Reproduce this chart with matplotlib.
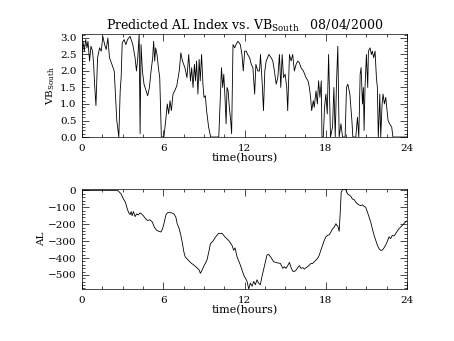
import numpy as np
import matplotlib
matplotlib.use("Agg")
import matplotlib.pyplot as plt
from matplotlib.ticker import MultipleLocator

# VB_south (top panel), hours vs value
vb_hours = [0.0, 0.03, 0.07, 0.17, 0.27, 0.37, 0.44, 0.56, 0.66, 0.78, 0.86, 0.93, 1.03,
            1.15, 1.30, 1.42, 1.54, 1.67, 1.79, 1.91, 2.03, 2.21, 2.38, 2.48, 2.57,
            2.72, 2.82, 2.89, 2.97, 3.11, 3.24, 3.36, 3.55, 3.75, 3.92, 4.02, 4.12,
            4.22, 4.29, 4.36, 4.46, 4.58, 4.73, 4.85, 4.98, 5.10, 5.22, 5.29, 5.37,
            5.44, 5.54, 5.64, 5.74, 5.86, 6.05, 6.18, 6.30, 6.40, 6.50, 6.60, 6.72,
            6.85, 7.00, 7.18, 7.30, 7.42, 7.60, 7.75, 7.88, 8.01, 8.10, 8.20, 8.30,
            8.38, 8.46, 8.56, 8.65, 8.73, 8.83, 8.93, 9.01, 9.11, 9.20, 9.35, 9.50,
            10.10, 10.30, 10.39, 10.47, 10.56, 10.64, 10.71, 10.79, 10.88, 10.98, 11.05,
            11.15, 11.28, 11.37, 11.52, 11.69, 11.81, 11.91, 12.01, 12.13, 12.23, 12.38,
            12.50, 12.62, 12.75, 12.84, 12.98, 13.11, 13.18, 13.31, 13.40, 13.50, 13.60,
            13.80, 13.97, 14.09, 14.21, 14.34, 14.46, 14.58, 14.68, 14.78, 14.88, 15.00,
            15.12, 15.19, 15.32, 15.44, 15.56, 15.68, 15.81, 15.93, 16.05, 16.17, 16.35,
            16.54, 16.69, 16.79, 16.88, 16.96, 17.08, 17.15, 17.28, 17.38, 17.47, 17.57,
            17.67, 17.72, 17.82, 17.91, 18.01, 18.11, 18.21, 18.35, 18.50, 18.60, 18.70,
            18.79, 18.89, 18.99, 19.12, 19.24, 19.43, 19.53, 19.63, 19.78, 19.93, 20.00,
            20.22, 20.34, 20.44, 20.54, 20.61, 20.71, 20.78, 20.83, 20.90, 21.00, 21.10,
            21.15, 21.27, 21.37, 21.44, 21.54, 21.64, 21.74, 21.81, 21.88, 21.93, 21.99,
            22.06, 22.16, 22.23, 22.33, 22.43, 22.50, 22.60, 22.72, 22.87, 22.96, 24.0]
vb_values = [0.8, 2.6, 2.9, 2.6, 2.95, 2.7, 2.9, 2.3, 2.75, 2.6, 2.2, 1.6, 0.95,
             2.4, 2.7, 2.6, 3.05, 2.8, 2.65, 3.0, 2.4, 2.2, 2.0, 1.2, 0.5,
             0.0, 1.4, 1.8, 2.85, 2.95, 2.8, 2.95, 3.05, 2.8, 2.4, 2.0, 2.4,
             3.12, 0.1, 2.8, 2.0, 1.6, 1.4, 1.25, 1.5, 2.0, 2.4, 2.9, 2.3,
             2.7, 2.5, 2.1, 1.8, 0.0, 0.0, 0.5, 1.0, 0.7, 1.1, 0.8, 1.3,
             1.4, 1.55, 2.0, 2.55, 2.3, 2.1, 1.8, 2.5, 1.7, 2.1, 1.5, 2.2,
             1.7, 2.3, 1.3, 2.35, 1.7, 2.5, 1.6, 1.2, 1.25, 0.8, 0.3, 0.0,
             0.0, 2.1, 1.5, 1.9, 1.2, 0.4, 1.5, 1.4, 0.9, 0.5, 0.1,
             2.8, 2.7, 2.8, 2.9, 2.8, 2.5, 2.0, 2.6, 2.6, 2.5, 2.4,
             2.2, 2.1, 1.3, 2.2, 2.0, 2.0, 2.5, 1.6, 0.8, 2.0, 2.3,
             2.5, 2.4, 2.3, 2.0, 1.6, 1.8, 2.5, 1.5, 2.5, 1.8, 1.9,
             1.5, 0.8, 2.5, 2.3, 2.5, 2.0, 2.2, 2.3, 2.25, 2.1, 2.0,
             1.8, 1.7, 1.5, 1.2, 0.8, 1.1, 0.9, 1.4, 1.0, 1.7, 1.2,
             1.7, 0.0, 0.0, 0.9, 1.3, 0.7, 2.5, 0.0, 0.3, 1.5, 0.0,
             1.6, 2.75, 0.0, 0.4, 0.0, 0.0, 1.5, 1.6, 1.3, 0.5, 0.0,
             0.0, 0.6, 0.0, 1.9, 2.1, 1.0, 1.5, 0.2, 1.5, 2.5, 1.5,
             2.6, 2.7, 2.5, 2.6, 2.4, 2.6, 1.8, 1.5, 0.0, 0.5, 1.3,
             0.0, 1.0, 1.3, 1.0, 1.2, 0.9, 0.5, 0.4, 0.3, 0.0, 0.0]

# predicted AL index (bottom panel)
al_hours = [0.0, 2.60, 2.70, 2.89, 3.06, 3.21, 3.31, 3.43, 3.55, 3.63, 3.70, 3.80,
            3.92, 4.04, 4.16, 4.29, 4.41, 4.53, 4.70, 4.85, 5.02, 5.19, 5.34, 5.51,
            5.68, 5.83, 5.95, 6.08, 6.20, 6.30, 6.44, 6.62, 6.79, 6.93, 7.03, 7.18,
            7.30, 7.42, 7.52, 7.62, 7.77, 7.91, 8.09, 8.26, 8.45, 8.65, 8.74, 8.85,
            8.98, 9.23, 9.40, 9.48, 9.67, 9.85, 10.09, 10.34, 10.58, 10.83, 10.95,
            11.08, 11.20, 11.30, 11.45, 11.69, 11.94, 12.19, 12.31, 12.43, 12.56,
            12.68, 12.80, 12.92, 13.04, 13.17, 13.29, 13.46, 13.66, 13.78, 13.96,
            14.15, 14.40, 14.65, 14.83, 14.95, 15.07, 15.19, 15.32, 15.44, 15.56,
            15.68, 15.81, 15.93, 16.05, 16.17, 16.30, 16.42, 16.54, 16.66, 16.79,
            16.91, 17.03, 17.15, 17.28, 17.40, 17.52, 17.64, 17.77, 17.89, 18.01,
            18.13, 18.26, 18.38, 18.50, 18.63, 18.75, 18.82, 18.89, 18.99, 19.07,
            19.14, 19.24, 19.36, 19.48, 19.61, 19.73, 19.85, 19.97, 20.10, 20.22,
            20.34, 20.46, 20.59, 20.71, 20.83, 20.95, 21.08, 21.20, 21.32, 21.44,
            21.57, 21.69, 21.81, 21.93, 22.06, 22.18, 22.30, 22.42, 22.55, 22.67,
            22.79, 22.91, 23.04, 23.16, 23.28, 23.40, 23.53, 23.65, 23.77, 23.89, 24.0]
al_values = [0, 0, -5, -21, -51, -70, -100, -129, -143, -125, -150, -125,
             -155, -139, -145, -133, -140, -150, -168, -178, -174, -187, -217, -236,
             -242, -246, -227, -187, -145, -133, -131, -133, -139, -158, -197, -227,
             -266, -314, -363, -393, -406, -418, -432, -441, -455, -470, -490, -475,
             -451, -412, -350, -316, -300, -277, -254, -254, -277, -296, -310,
             -325, -354, -340, -393, -441, -500, -538, -583, -548, -567,
             -538, -558, -529, -548, -558, -509, -451, -383, -378, -397,
             -422, -428, -432, -461, -451, -461, -445, -426, -457, -477,
             -480, -471, -457, -445, -461, -457, -465, -457, -451, -441,
             -432, -432, -422, -412, -402, -383, -353, -324, -295, -275,
             -266, -262, -246, -227, -217, -197, -207, -211, -242, -129,
             -12, 4, 8, 4, -21, -27, -35, -51, -55, -70,
             -80, -86, -90, -86, -94, -100, -129, -158, -187, -227,
             -266, -295, -324, -344, -355, -353, -340, -324, -301, -275,
             -285, -266, -270, -256, -242, -227, -217, -207, -197, -187, -180]

date_str = "08/04/2000"

plt.rcParams['font.family'] = ['DejaVu Serif']
plt.rcParams['mathtext.fontset'] = 'dejavuserif'
plt.rcParams['font.size'] = 7.5

fig = plt.figure(figsize=(4.54, 3.41), dpi=100)
ax1 = fig.add_axes([0.1806, 0.5982, 0.7159, 0.3021])
ax2 = fig.add_axes([0.1806, 0.1525, 0.7159, 0.2932])

ax1.plot(vb_hours, vb_values, color='black', lw=0.6)
ax1.set_xlim(0, 24)
ax1.set_ylim(min(vb_values), max(vb_values))
ax1.yaxis.set_major_locator(MultipleLocator(0.5))
ax1.yaxis.set_minor_locator(MultipleLocator(0.1))
ax1.yaxis.set_major_formatter(matplotlib.ticker.FormatStrFormatter('%.1f'))
ax1.set_ylabel(r'VB$_{\rm South}$', fontsize=7.5, labelpad=2)
ax1.set_xlabel('time(hours)', fontsize=8, labelpad=0)
ax1.set_title(r'Predicted AL Index vs. VB$_{\rm South}$   ' + date_str, fontsize=9, pad=3)

ax2.plot(al_hours, al_values, color='black', lw=0.6)
ax2.set_xlim(0, 24)
ax2.set_ylim(min(al_values), max(al_values))
ax2.yaxis.set_major_locator(MultipleLocator(100))
ax2.yaxis.set_minor_locator(MultipleLocator(20))
ax2.set_ylabel('AL', fontsize=7.5, labelpad=1)
ax2.set_xlabel('time(hours)', fontsize=8, labelpad=0)

for ax in (ax1, ax2):
    ax.xaxis.set_major_locator(MultipleLocator(6))
    ax.xaxis.set_minor_locator(MultipleLocator(1.5))
    ax.tick_params(which='both', direction='in', top=True, right=True, width=0.5)
    ax.tick_params(which='major', length=5, pad=4)
    ax.tick_params(which='minor', length=2.5)
    ax.tick_params(axis='x', which='major', pad=5)
    for s in ax.spines.values():
        s.set_linewidth(0.5)

fig.savefig('out.png', dpi=100)
